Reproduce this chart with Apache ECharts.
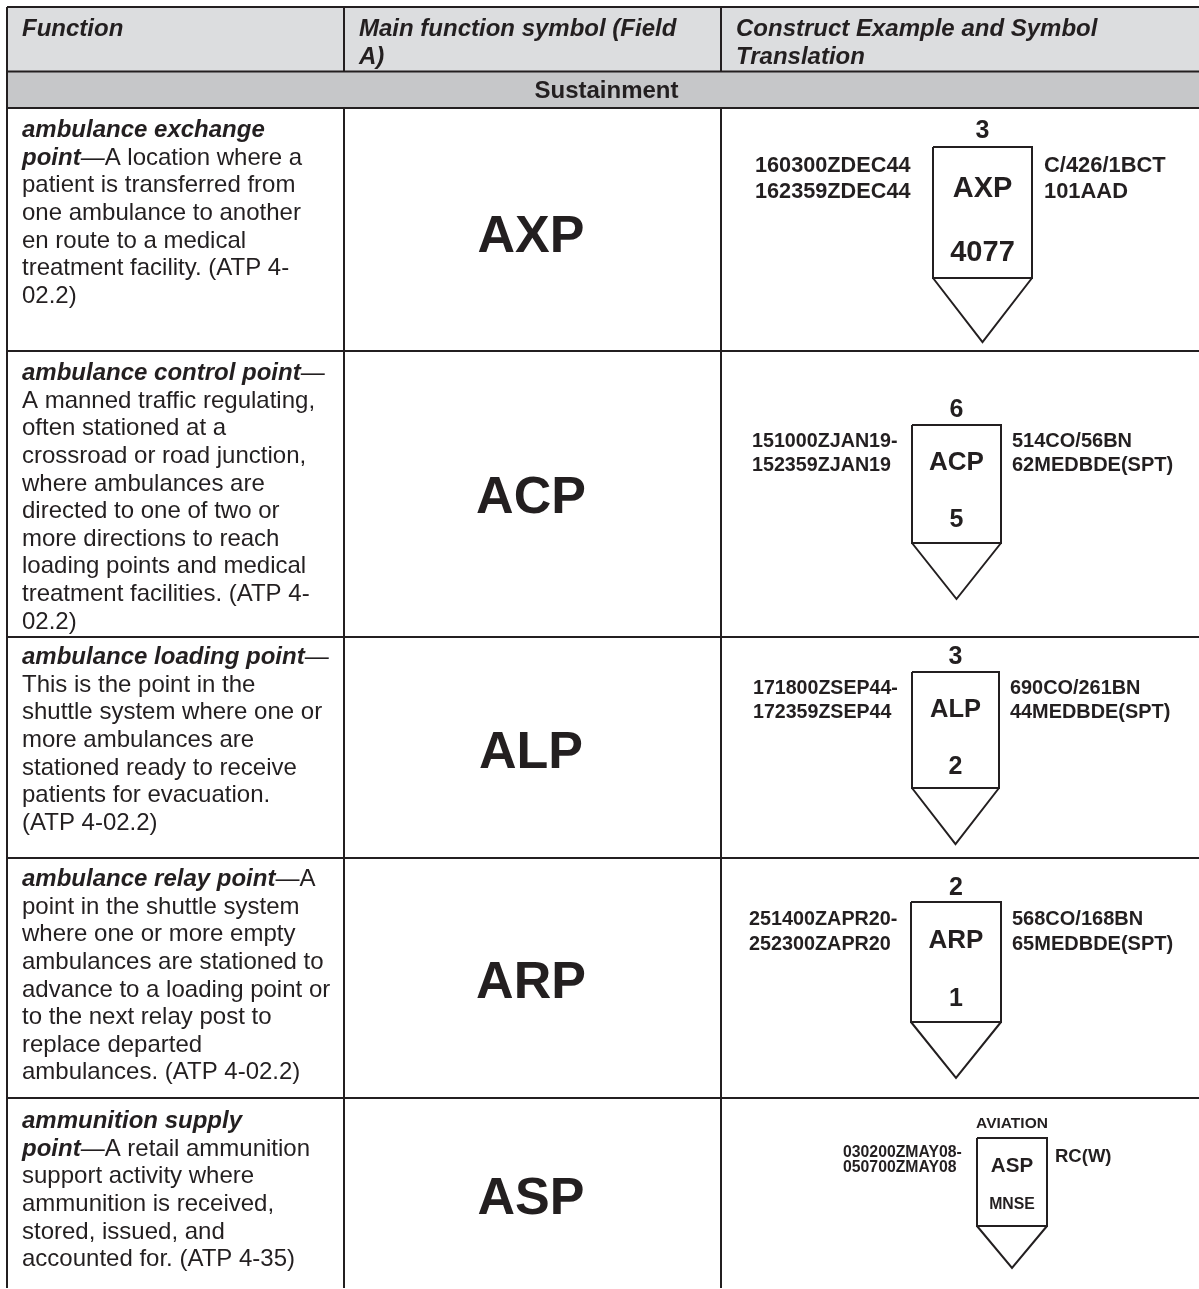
<!DOCTYPE html>
<html><head><meta charset="utf-8">
<style>html,body{margin:0;padding:0;background:#fff}#c{width:1199px;height:1289px}</style>
<script src="https://cdn.jsdelivr.net/npm/echarts@6/dist/echarts.min.js"></script>
</head><body><div id="c"></div>
<script>
// ---- content ----
const headers = [
  ['Function'],
  ['Main function symbol (Field', 'A)'],
  ['Construct Example and Symbol', 'Translation']
];
const sectionTitle = 'Sustainment';
const functionLines = [
  ['{t|ambulance exchange}','{t|point}—A location where a','patient is transferred from','one ambulance to another','en route to a medical','treatment facility. (ATP 4-','02.2)'],
  ['{t|ambulance control point}—','A manned traffic regulating,','often stationed at a','crossroad or road junction,','where ambulances are','directed to one of two or','more directions to reach','loading points and medical','treatment facilities. (ATP 4-','02.2)'],
  ['{t|ambulance loading point}—','This is the point in the','shuttle system where one or','more ambulances are','stationed ready to receive','patients for evacuation.','(ATP 4-02.2)'],
  ['{t|ambulance relay point}—A','point in the shuttle system','where one or more empty','ambulances are stationed to','advance to a loading point or','to the next relay post to','replace departed','ambulances. (ATP 4-02.2)'],
  ['{t|ammunition supply}','{t|point}—A retail ammunition','support activity where','ammunition is received,','stored, issued, and','accounted for. (ATP 4-35)']
];
const mainSymbols = ['AXP','ACP','ALP','ARP','ASP'];
const topLabels = ['3','6','3','2','AVIATION'];
const bottomLabels = ['4077','5','2','1','MNSE'];
const dtgLabels = [
  ['160300ZDEC44','162359ZDEC44'],
  ['151000ZJAN19-','152359ZJAN19'],
  ['171800ZSEP44-','172359ZSEP44'],
  ['251400ZAPR20-','252300ZAPR20'],
  ['030200ZMAY08-','050700ZMAY08']
];
const unitLabels = [
  ['C/426/1BCT','101AAD'],
  ['514CO/56BN','62MEDBDE(SPT)'],
  ['690CO/261BN','44MEDBDE(SPT)'],
  ['568CO/168BN','65MEDBDE(SPT)'],
  ['RC(W)']
];

// ---- layout (page units on the hidden axes) ----
const colEdges = [7, 344, 721, 1199];
const rowEdges = [7, 71.5, 108, 351, 637, 858, 1098, 1288];
const textInset = 15;
const lineStep = 27.6;
const headerFirstY = 28;
const firstLineY = [129, 372, 656, 878, 1120];
const mainSymbolY = [234, 495, 750, 980, 1196];
const mainSymbolX = 531;
const sectionX = 606.5, sectionY = 90;
// [left, right, top, bottom, tipY]
const boxGeom = [
  [933,1032,147,278,342],
  [912,1001,425,543,599],
  [912,999,672,788,844],
  [911,1001,902,1022,1078],
  [977,1047,1138,1226,1268]
];
const topY = [129,408,655,886,1123], boxLabelY = [187,461,708,939,1165], bottomY = [251,518,765,997,1204];
const dtgX = [755,752,753,749,843], dtgY = [164.5,440,687,918,1152], dtgStep = [26,24,24,25,15];
const unitX = [1044,1012,1010,1012,1055], unitY = [164.5,440,687,918,1156];
const topFont = [25,25,25,25,15.5], boxFont = [29,26,25.5,26,20.6], bottomFont = [29,25,25,25,15.8], sideFont = [21.7,19.7,19.6,19.8,15.8], unitFont = [21.9,20,19.9,20,18.5];
const baselineNudge = 0.065;

const INK = '#231f20', HEAD = '#dcdddf', SECTION = '#c6c7c9', FAMILY = '"Liberation Sans"';
const marks = [];
const fill = (x0,x1,y0,y1,c) => marks.push({k:'rect',x0,x1,y0,y1,c});
const line = (pts,w) => marks.push({k:'line',pts,w});
const text = (x,y,t,o) => marks.push(Object.assign({k:'text',x,y:y+baselineNudge*o.size,t},o));

fill(colEdges[0],colEdges[3],rowEdges[0],rowEdges[1],HEAD);
fill(colEdges[0],colEdges[3],rowEdges[1],rowEdges[2],SECTION);
rowEdges.slice(0,-1).forEach(y => line([[colEdges[0],y],[colEdges[3],y]],2));
line([[colEdges[0],rowEdges[0]],[colEdges[0],rowEdges[7]]],2);
[1,2].forEach(i => {
  line([[colEdges[i],rowEdges[0]],[colEdges[i],rowEdges[1]]],2);
  line([[colEdges[i],rowEdges[2]],[colEdges[i],rowEdges[7]]],2);
});
headers.forEach((ls,c) => ls.forEach((s,j) =>
  text(colEdges[c]+textInset,headerFirstY+j*lineStep,s,{size:24,weight:'bold',italic:true})));
text(sectionX,sectionY,sectionTitle,{size:24,weight:'bold',align:'center'});
functionLines.forEach((ls,r) => ls.forEach((s,j) =>
  text(colEdges[0]+textInset,firstLineY[r]+j*lineStep,s,{size:24,rich:true})));
mainSymbols.forEach((s,r) => {
  text(mainSymbolX,mainSymbolY[r],s,{size:52,weight:'bold',align:'center'});
  const [l,rt,tp,bt,tip] = boxGeom[r], cx = (l+rt)/2;
  line([[l,tp],[rt,tp],[rt,bt],[l,bt],[l,tp]],2);
  line([[l,bt],[cx,tip],[rt,bt]],2);
  text(cx,topY[r],topLabels[r],{size:topFont[r],weight:'bold',align:'center'});
  text(cx,boxLabelY[r],s,{size:boxFont[r],weight:'bold',align:'center'});
  text(cx,bottomY[r],bottomLabels[r],{size:bottomFont[r],weight:'bold',align:'center'});
  dtgLabels[r].forEach((d,j) => text(dtgX[r],dtgY[r]+j*dtgStep[r],d,{size:sideFont[r],weight:'bold'}));
  unitLabels[r].forEach((d,j) => text(unitX[r],unitY[r]+j*dtgStep[r],d,{size:unitFont[r],weight:'bold'}));
});

function renderMark(params, api){
  const m = marks[params.dataIndex];
  if(m.k==='rect'){
    const a = api.coord([m.x0,m.y0]), b = api.coord([m.x1,m.y1]);
    return {type:'rect',shape:{x:a[0],y:a[1],width:b[0]-a[0],height:b[1]-a[1]},style:{fill:m.c}};
  }
  if(m.k==='line'){
    return {type:'polyline',shape:{points:m.pts.map(p=>api.coord(p))},style:{fill:null,stroke:INK,lineWidth:m.w,lineJoin:'miter'}};
  }
  const p = api.coord([m.x,m.y]);
  const style = {x:p[0],y:p[1],text:m.t,fill:INK,fontFamily:FAMILY,fontSize:m.size,
    fontWeight:m.weight||'normal',fontStyle:m.italic?'italic':'normal',
    align:m.align||'left',verticalAlign:'middle'};
  if(m.rich) style.rich = {t:{fontFamily:FAMILY,fontSize:m.size,fontWeight:'bold',fontStyle:'italic',fill:INK}};
  return {type:'text',style};
}

const chart = echarts.init(document.getElementById('c'),null,{renderer:'canvas',width:1199,height:1289});
chart.setOption({
  animation:false,
  backgroundColor:'#fff',
  grid:{left:0,right:0,top:0,bottom:0},
  xAxis:{type:'value',min:0,max:1199,show:false},
  yAxis:{type:'value',min:0,max:1289,inverse:true,show:false},
  series:[{type:'custom',silent:true,clip:false,coordinateSystem:'cartesian2d',
    data:marks.map((m,i)=>[i]),renderItem:renderMark}]
});
</script></body></html>
